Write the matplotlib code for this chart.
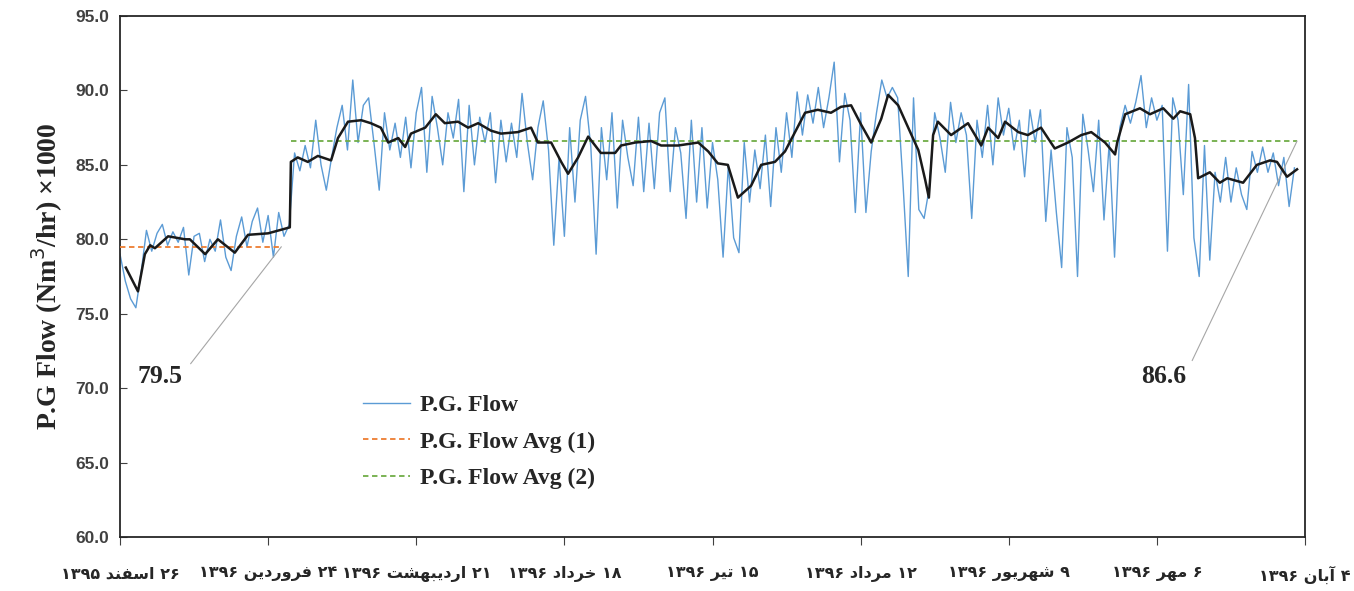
import re
import numpy as np
import matplotlib
matplotlib.use('Agg')
import matplotlib.pyplot as plt

# P.G. flow, one reading per day (x1000 Nm3/hr), day 0 = 26 Esfand 1395
flow = [
    79.0, 77.2, 76.0, 75.4, 77.8, 80.6, 79.2, 80.4, 81.0, 79.6,
    80.5, 79.8, 80.8, 77.6, 80.2, 80.4, 78.5, 80.0, 79.2, 81.3,
    78.8, 77.9, 80.2, 81.5, 79.5, 81.2, 82.1, 79.8, 81.6, 78.8,
    81.8, 80.2, 81.0, 85.8, 84.6, 86.3, 84.8, 88.0, 85.0, 83.3,
    85.5, 87.5, 89.0, 86.0, 90.7, 86.5, 89.0, 89.5, 86.5, 83.3,
    88.5, 86.0, 87.8, 85.5, 88.2, 84.8, 88.5, 90.2, 84.5, 89.6,
    87.5, 85.0, 88.5, 86.8, 89.4, 83.2, 89.0, 85.0, 88.2, 86.5,
    88.5, 83.8, 88.0, 85.2, 87.8, 85.5, 89.8, 86.5, 84.0, 87.5,
    89.3, 86.0, 79.6, 85.5, 80.2, 87.5, 82.5, 88.0, 89.6, 86.2,
    79.0, 87.5, 84.0, 88.5, 82.1, 88.0, 85.5, 83.6, 88.2, 83.2,
    87.8, 83.4, 88.5, 89.5, 83.2, 87.5, 85.8, 81.4, 88.0, 82.5,
    87.5, 82.1, 86.5, 84.0, 78.8, 85.0, 80.1, 79.1, 86.5, 82.5,
    86.0, 83.4, 87.0, 82.2, 87.5, 84.5, 88.5, 85.5, 89.9, 87.0,
    89.7, 87.8, 90.2, 87.5, 89.5, 91.9, 85.2, 89.8, 88.0, 81.8,
    88.5, 81.8, 85.9, 88.5, 90.7, 89.5, 90.2, 89.5, 83.8, 77.5,
    89.5, 82.0, 81.4, 83.5, 88.5, 86.8, 84.5, 89.2, 86.5, 88.5,
    87.0, 81.4, 88.0, 85.5, 89.0, 85.0, 89.5, 87.0, 88.8, 86.0,
    88.0, 84.2, 88.7, 86.5, 88.7, 81.2, 86.0, 81.8, 78.1, 87.5,
    85.5, 77.5, 88.4, 86.0, 83.2, 88.0, 81.3, 86.5, 78.8, 87.5,
    89.0, 87.8, 89.2, 91.0, 87.5, 89.5, 88.0, 89.0, 79.2, 89.5,
    88.0, 83.0, 90.4, 80.1, 77.5, 86.3, 78.6, 84.5, 82.5, 85.5,
    82.5, 84.8, 83.0, 82.0, 85.9, 84.5, 86.2, 84.5, 85.8, 83.6,
    85.5, 82.2, 84.8,
]

# moving average line (black), read as (day, value)
ma_day = [1.1, 3.4, 4.7, 5.7, 6.6, 9.1, 12.3, 13.2, 16.1, 18.5, 21.7, 24.2,
          28.0, 32.1, 32.3, 33.6, 35.5, 37.4, 39.9, 41.2, 43.1, 45.6, 47.4,
          49.3, 50.7, 52.6, 53.9, 55.0, 57.7, 59.7, 61.4, 63.9, 65.8, 67.7,
          70.1, 72.0, 75.2, 77.7, 79.0, 81.5, 83.4, 84.7, 86.6, 88.5, 90.9,
          93.6, 94.7, 97.4, 100.4, 102.3, 105.5, 109.3, 111.2, 113.0, 114.9,
          116.8, 119.3, 121.2, 123.8, 125.7, 127.6, 129.5, 131.9, 134.4,
          136.3, 138.2, 140.1, 142.0, 143.9, 145.2, 147.1, 149.5, 150.9,
          152.2, 152.9, 153.7, 154.6, 157.1, 160.3, 162.8, 164.1, 166.0,
          167.3, 169.8, 171.6, 174.1, 176.7, 179.2, 181.7, 183.6, 186.2,
          188.1, 188.5, 190.0, 192.8, 194.7, 197.2, 199.1, 200.4, 202.3,
          203.2, 203.8, 206.0, 207.9, 209.3, 212.3, 214.9, 217.4, 218.7,
          220.6, 222.5]
ma_val = [78.1, 76.5, 79.0, 79.6, 79.4, 80.2, 80.0, 80.0, 79.0, 80.0, 79.1, 80.3,
          80.4, 80.8, 85.2, 85.5, 85.2, 85.6, 85.3, 86.8, 87.9, 88.0, 87.8,
          87.5, 86.5, 86.8, 86.2, 87.1, 87.5, 88.4, 87.8, 87.9, 87.5, 87.8,
          87.3, 87.1, 87.2, 87.5, 86.5, 86.5, 85.2, 84.4, 85.5, 86.9, 85.8,
          85.8, 86.3, 86.5, 86.6, 86.3, 86.3, 86.5, 85.9, 85.1, 85.0,
          82.8, 83.6, 85.0, 85.2, 85.9, 87.2, 88.5, 88.7, 88.5,
          88.9, 89.0, 87.7, 86.5, 88.1, 89.7, 89.0, 87.1, 86.0,
          84.0, 82.8, 87.0, 87.9, 87.0, 87.8, 86.3, 87.5, 86.8,
          87.9, 87.2, 87.0, 87.5, 86.1, 86.5, 87.0, 87.2, 86.5,
          85.7, 86.5, 88.4, 88.8, 88.4, 88.8, 88.1, 88.6, 88.4,
          86.8, 84.1, 84.5, 83.8, 84.1, 83.8, 85.0, 85.3, 85.2,
          84.2, 84.7]

# period averages and the days they cover
avg1, avg1_days = 79.5, (0.0, 30.5)
avg2, avg2_days = 86.6, (32.3, 222.5)

date_labels = ['۲۶ اسفند ۱۳۹۵', '۲۴ فروردین ۱۳۹۶', '۲۱ اردیبهشت ۱۳۹۶',
               '۱۸ خرداد ۱۳۹۶', '۱۵ تیر ۱۳۹۶', '۱۲ مرداد ۱۳۹۶',
               '۹ شهریور ۱۳۹۶', '۶ مهر ۱۳۹۶', '۴ آبان ۱۳۹۶']
tick_step = 28  # days between date labels

# Arabic joining forms: isolated, final, initial, medial
FORMS = {
    'آ': (0xFE81, 0xFE82, None, None), 'ا': (0xFE8D, 0xFE8E, None, None),
    'ب': (0xFE8F, 0xFE90, 0xFE91, 0xFE92), 'ت': (0xFE95, 0xFE96, 0xFE97, 0xFE98),
    'خ': (0xFEA5, 0xFEA6, 0xFEA7, 0xFEA8), 'د': (0xFEA9, 0xFEAA, None, None),
    'ر': (0xFEAD, 0xFEAE, None, None), 'س': (0xFEB1, 0xFEB2, 0xFEB3, 0xFEB4),
    'ش': (0xFEB5, 0xFEB6, 0xFEB7, 0xFEB8), 'ف': (0xFED1, 0xFED2, 0xFED3, 0xFED4),
    'م': (0xFEE1, 0xFEE2, 0xFEE3, 0xFEE4), 'ن': (0xFEE5, 0xFEE6, 0xFEE7, 0xFEE8),
    'ه': (0xFEE9, 0xFEEA, 0xFEEB, 0xFEEC), 'و': (0xFEED, 0xFEEE, None, None),
    'ی': (0xFBFC, 0xFBFD, 0xFEF3, 0xFEF4),
}


def shapePersian(text):
    # pick joining forms, then lay out right-to-left (digit runs stay LTR)
    out = []
    for i, c in enumerate(text):
        if c not in FORMS:
            out.append(c)
            continue
        prev = text[i - 1] if i > 0 else ''
        nxt = text[i + 1] if i + 1 < len(text) else ''
        joinPrev = prev in FORMS and FORMS[prev][2] is not None
        joinNext = nxt in FORMS and FORMS[c][2] is not None
        iso, fin, ini, med = FORMS[c]
        if joinPrev and joinNext:
            out.append(chr(med))
        elif joinPrev:
            out.append(chr(fin))
        elif joinNext:
            out.append(chr(ini))
        else:
            out.append(chr(iso))
    visual = ''.join(out)[::-1]
    return re.sub('[۰-۹]+', lambda m: m.group(0)[::-1], visual)


serif = ['Liberation Serif', 'DejaVu Serif']
plt.rcParams['font.family'] = ['Liberation Sans', 'DejaVu Sans']

fig = plt.figure(figsize=(13.54, 5.91), dpi=100)
ax = fig.add_axes([120 / 1354, 1 - 537 / 591, 1185 / 1354, 521 / 591])

days = np.arange(len(flow))
ax.plot(days, flow, color='#5B9BD5', lw=1.0, label='P.G. Flow', zorder=2)
ax.plot(avg1_days, [avg1, avg1], color='#ED7D31', lw=1.3, ls=(0, (3, 2)),
        label='P.G. Flow Avg (1)', zorder=3)
ax.plot(avg2_days, [avg2, avg2], color='#70AD47', lw=1.3, ls=(0, (3, 2)),
        label='P.G. Flow Avg (2)', zorder=3)
ax.plot(ma_day, ma_val, color='#1a1a1a', lw=1.8, zorder=4)

# value labels with leader lines
for val, target, textDay in [(avg1, avg1_days[1], 7.6), (avg2, avg2_days[1], 197.2)]:
    ax.annotate(f'{val:.1f}', xy=(target, val), xytext=(textDay, 70.8),
                ha='center', va='center', fontsize=18.5, fontweight='bold',
                family=serif, color='#262626',
                arrowprops=dict(arrowstyle='-', color='#a6a6a6', lw=0.8,
                                shrinkA=6, shrinkB=0, relpos=(1, 0.6)))

ax.set_xlim(0, tick_step * (len(date_labels) - 1))
ax.set_ylim(60, 95)
ax.set_yticks(np.arange(60, 95.1, 5))
ax.set_yticklabels([f'{v:.1f}' for v in np.arange(60, 95.1, 5)])
ax.set_xticks(np.arange(len(date_labels)) * tick_step)
ax.set_xticklabels([shapePersian(s) for s in date_labels],
                   family=['DejaVu Sans'], fontweight='bold', fontsize=11.5,
                   color='#262626')
ax.tick_params(axis='x', direction='out', length=6, pad=15, color='#404040')
ax.tick_params(axis='y', direction='in', length=5, pad=8, labelsize=12.5,
               labelcolor='#404040', color='#404040')
for t in ax.get_yticklabels():
    t.set_fontweight('bold')
for s in ax.spines.values():
    s.set_color('#262626')
    s.set_linewidth(1.3)

ax.set_ylabel('P.G Flow (Nm$^3$/hr) ×1000', family=serif, fontsize=20,
              fontweight='bold', color='#262626', labelpad=7)

leg = ax.legend(loc='upper left', bbox_to_anchor=(0.187, 0.314), frameon=False,
                prop=dict(family=serif, weight='bold', size=17),
                handlelength=2.0, handletextpad=0.42, labelspacing=0.63)
for t in leg.get_texts():
    t.set_color('#262626')

fig.savefig('out.png', dpi=100)
